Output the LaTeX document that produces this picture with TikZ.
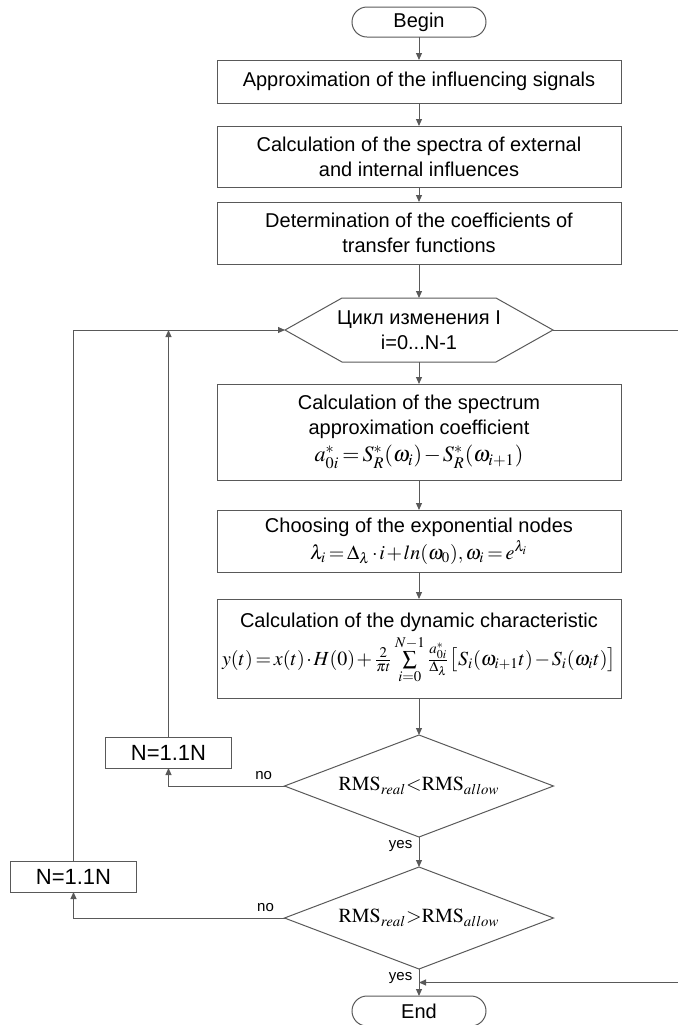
\documentclass[tikz,border=0pt]{standalone}
\usepackage{mathptmx}
\usepackage[no-math]{fontspec}
\setmainfont{Liberation Serif}
\setsansfont{Liberation Sans}
\usetikzlibrary{
    shapes.geometric,
    arrows.meta,
    positioning,
    calc
}
\tikzstyle{arrow} = [
    draw=black!65,
    line width=0.5pt,
    ->,
    >={Triangle[length=3.5pt,width=3pt]}
]

\begin{document}
\begin{tikzpicture}[
    font=\sffamily\fontsize{10}{12.5}\selectfont,
    every node/.style={outer sep=0pt},
    outline/.style={
        draw=black!65,
        line width=0.5pt
    },
    box/.style={
        outline,
        minimum width=202pt,
        align=center,
        inner sep=2pt,
        execute at begin node={\medmuskip=1.5mu\thickmuskip=2.5mu}
    },
    term/.style={
        outline,
        rounded corners=7.5pt,
        minimum width=67pt,
        minimum height=15pt,
        inner sep=1pt
    },
    hexa/.style={
        minimum width=134pt,
        minimum height=32pt,
        align=center,
        inner sep=1pt
    },
    decision/.style={
        outline,
        diamond,
        aspect=2.6,
        minimum width=134.5pt,
        minimum height=51pt,
        inner sep=0pt,
        font=\fontsize{10}{12}\selectfont
    },
    nbox/.style={
        outline,
        minimum width=63pt,
        minimum height=15.5pt,
        inner sep=1pt,
        font=\sffamily\fontsize{11}{13}\selectfont
    },
    lbl/.style={
        font=\sffamily\fontsize{7.5}{9}\selectfont
    }
]

\useasboundingbox (0,0) rectangle (339pt,-512.5pt);

% main column
\node[term] (start) at (209.5pt,-11pt) {Begin};
\node[box, minimum height=21.5pt, below=11.5pt of start] (approx) {Approximation of the influencing signals};
\node[box, minimum height=30.5pt, below=11.5pt of approx] (spectra) {Calculation of the spectra of external\\and internal influences};
\node[box, minimum height=31pt, below=7.5pt of spectra] (coeff) {Determination of the coefficients of\\transfer functions};
\node[hexa, below=17pt of coeff] (loop) {Цикл изменения I\\i=0...N-1};
\draw[outline] (loop.west) -- ($(loop.north west)+(28.5pt,0)$)
    -- ($(loop.north east)+(-28.5pt,0)$) -- (loop.east)
    -- ($(loop.south east)+(-28.5pt,0)$) -- ($(loop.south west)+(28.5pt,0)$) -- cycle;
\node[box, minimum height=48pt, below=11pt of loop] (approxcoef) {
    Calculation of the spectrum\\
    approximation coefficient\\[1pt]
    \fontsize{11}{13}\selectfont
    $a^{*}_{0i}=S^{*}_{R}(\omega_{i})-S^{*}_{R}(\omega_{i+1})$
};
\node[box, minimum height=31pt, below=15pt of approxcoef] (expnodes) {
    Choosing of the exponential nodes\\[1pt]
    $\lambda_{i}=\Delta_{\lambda}\cdot i+ln(\omega_{0}),\omega_{i}=e^{\lambda_{i}}$
};
\node[box, minimum height=49.5pt, below=13.5pt of expnodes] (dyn) {
    Calculation of the dynamic characteristic\\[1pt]
    $y(t)=x(t)\cdot H(0)+\frac{2}{\pi t}\sum\limits_{i=0}^{N-1}\frac{a^{*}_{0i}}{\Delta_{\lambda}}\big[S_{i}(\omega_{i+1}t)-S_{i}(\omega_{i}t)\big]$
};
\node[decision, below=18.5pt of dyn] (check1) {$\mathrm{RMS}_{real}{<}\mathrm{RMS}_{allow}$};
\node[decision, below=15pt of check1] (check2) {$\mathrm{RMS}_{real}{>}\mathrm{RMS}_{allow}$};
\node[term, below=13.5pt of check2] (stop) {End};

% corrections of N
\node[nbox, above left=9pt and 26.5pt of check1.west] (incr1) {N=1.1N};
\node[nbox, above left=13pt and 74pt of check2.west] (incr2) {N=1.1N};

\coordinate (rgt) at ($(loop.east)+(64pt,0)$);
\coordinate (join) at ($(check2.south)!0.5!(stop.north)$);

% connectors
\draw[arrow] (start) -- (approx);
\draw[arrow] (approx) -- (spectra);
\draw[arrow] (spectra) -- (coeff);
\draw[arrow] (coeff) -- (loop);
\draw[arrow] (loop) -- (approxcoef);
\draw[arrow] (approxcoef) -- (expnodes);
\draw[arrow] (expnodes) -- (dyn);
\draw[arrow] (dyn) -- (check1);
\draw[arrow] (check1) -- node[lbl, left, pos=0.3] {yes} (check2);
\draw[arrow] (check2) -- node[lbl, left, pos=0.35] {yes} (stop);
\draw[arrow] (check1.west) -| node[lbl, above, pos=0.09] {no} (incr1.south);
\draw[arrow] (check2.west) -| node[lbl, above, pos=0.045] {no} (incr2.south);
\draw[arrow] (incr1.north) -- (incr1.north |- loop.west);
\draw[arrow] (incr2.north) |- (loop.west);
\draw[arrow] (loop.east) -- (rgt) |- (join);

\end{tikzpicture}
\end{document}
